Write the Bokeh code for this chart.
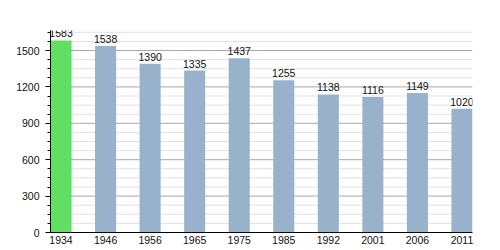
from bokeh.plotting import figure
from bokeh.models import Range1d, FixedTicker, ColumnDataSource, Span
from bokeh.core.properties import value
from bokeh.embed import file_html
from bokeh.resources import INLINE

years = ["1934", "1946", "1956", "1965", "1975", "1985", "1992", "2001", "2006", "2011"]
population = [1583, 1538, 1390, 1335, 1437, 1255, 1138, 1116, 1149, 1020]
bar_colors = ["#62df62"] + ["#98b2cc"] * 9
y_ticks = [0, 300, 600, 900, 1200, 1500]

xs = list(range(len(years)))
src = ColumnDataSource(dict(x=xs, top=population, color=bar_colors,
                            label=[str(v) for v in population]))

p = figure(width=500, height=250, output_backend="svg", toolbar_location=None,
           x_range=Range1d(-0.2365, 9.2365), y_range=Range1d(0, 1665),
           min_border_left=50, min_border_right=28, min_border_top=30,
           min_border_bottom=18)
p.outline_line_color = None
p.background_fill_color = "white"

# minor grid every 75, major every 300
p.xgrid.visible = False
p.ygrid.grid_line_color = None
for v in range(75, 1651, 75):
    col = "#a8a8a8" if v % 300 == 0 else "#e2e2e2"
    p.add_layout(Span(location=v, dimension="width", line_color=col,
                      line_width=1, level="underlay"))

p.vbar(x="x", top="top", width=0.473, bottom=0, color="color", source=src, line_color=None)
p.text(x="x", y="top", text="label", source=src, text_align="center",
       text_baseline="bottom", y_offset=-3, text_font=value("Liberation Sans"),
       text_font_size="10.5px", text_color="#111111")

p.yaxis.ticker = FixedTicker(ticks=y_ticks, minor_ticks=list(range(0, 1651, 75)))
p.yaxis.axis_line_color = "black"
p.yaxis.major_tick_out = 5
p.yaxis.major_tick_in = 0
p.yaxis.minor_tick_out = 3
p.yaxis.minor_tick_in = 0
p.yaxis.major_label_standoff = 6
p.yaxis.major_label_text_font = "Liberation Sans"
p.yaxis.major_label_text_font_size = "10.5px"
p.yaxis.major_label_text_color = "#111111"

p.xaxis.ticker = FixedTicker(ticks=xs)
p.xaxis.major_label_overrides = {i: y for i, y in enumerate(years)}
p.xaxis.axis_line_color = "black"
p.xaxis.major_tick_out = 0
p.xaxis.major_tick_in = 0
p.xaxis.minor_tick_line_color = None
p.xaxis.major_label_standoff = 3
p.xaxis.major_label_text_font = "Liberation Sans"
p.xaxis.major_label_text_font_size = "10.5px"
p.xaxis.major_label_text_color = "#111111"

open("out.html", "w").write(file_html(p, INLINE))
